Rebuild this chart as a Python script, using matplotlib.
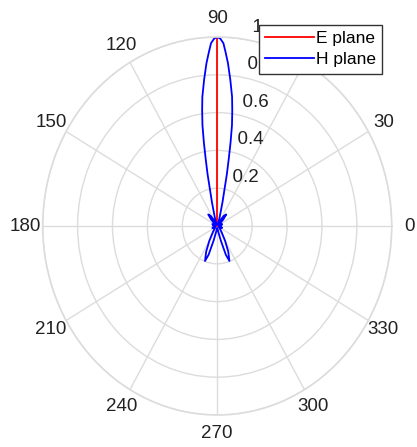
import numpy as np
import matplotlib.pyplot as plt

plt.rcParams['font.family'] = ['Liberation Sans', 'DejaVu Sans']

# H plane pattern (angle in degrees, normalised gain)
h_theta = [0, 10, 20, 28, 38, 45, 50, 55, 60, 65, 70, 73, 75.2, 76.5, 77.7,
           78.6, 79.5, 80.2, 81.0, 82.0, 82.9, 84.5, 85.9, 87.0, 87.9, 89,
           90, 91, 92.1, 93.0, 94.1, 95.5, 97.1, 98.0, 99.0, 99.8, 100.5,
           101.4, 102.3, 103.5, 104.8, 107, 110, 115, 120, 125, 130, 135,
           142, 152, 160, 170, 180, 190, 200, 210, 222, 232, 240, 245, 249.3,
           252, 255, 259, 263, 270, 277, 281, 285, 288, 290.7, 295, 300, 308,
           318, 330, 340, 350, 360]
h_r = [0.01, 0.025, 0.03, 0.01, 0.02, 0.05, 0.08, 0.065, 0.03, 0.008, 0.02,
       0.045, 0.078, 0.13, 0.186, 0.28, 0.366, 0.45, 0.541, 0.62, 0.689,
       0.78, 0.863, 0.92, 0.968, 0.992, 1.0, 0.992, 0.968, 0.92, 0.863,
       0.78, 0.689, 0.62, 0.541, 0.45, 0.366, 0.28, 0.186, 0.13, 0.078,
       0.045, 0.02, 0.008, 0.03, 0.065, 0.08, 0.05, 0.02, 0.01, 0.03, 0.025,
       0.01, 0.02, 0.03, 0.012, 0.02, 0.04, 0.09, 0.15, 0.198, 0.16, 0.08,
       0.03, 0.015, 0.01, 0.015, 0.03, 0.08, 0.16, 0.198, 0.15, 0.09, 0.04,
       0.02, 0.012, 0.03, 0.02, 0.01]

# E plane: a single spike along 90 degrees
e_theta = [90, 90]
e_r = [0, 1]

angle_ticks = list(range(0, 360, 30))
radial_ticks = [0.2, 0.4, 0.6, 0.8, 1.0]
radial_labels = ['0.2', '0.4', '0.6', '0.8', '1']

fig = plt.figure(figsize=(4.17, 4.47), dpi=100)
ax = fig.add_axes([0.1024, 0.0716, 0.837, 0.8456], projection='polar')
ax.set_aspect('auto')

grid_col = '#dcdcdc'
ax.set_ylim(0, 1)
ax.set_rticks(radial_ticks)
ax.set_yticklabels([])
ax.set_thetagrids(angle_ticks, labels=[''] * len(angle_ticks))
ax.grid(True, color=grid_col, lw=1, ls='-')
ax.spines['polar'].set_color(grid_col)
ax.spines['polar'].set_linewidth(1.2)

ax.plot(np.deg2rad(e_theta), e_r, color='red', lw=1.3, label='E plane')
ax.plot(np.deg2rad(h_theta), h_r, color='blue', lw=1.3, label='H plane')

txt_col = '#222222'
for a in angle_ticks:
    ax.text(np.deg2rad(a), 1.1, str(a), ha='center', va='center',
            fontsize=13.5, color=txt_col, clip_on=False)

for r, lab in zip(radial_ticks, radial_labels):
    ax.text(np.deg2rad(82), r + 0.015, '  ' + lab, ha='left', va='bottom',
            fontsize=13.5, color=txt_col, clip_on=False)

# legend sits on top of the 0.8 label, as in the original
leg = ax.legend(loc='upper left', bbox_to_anchor=(259 / 417, 1 - 25 / 447),
                bbox_transform=fig.transFigure, fontsize=12.5, frameon=True,
                fancybox=False, framealpha=1, edgecolor='#333333',
                borderpad=0.35, handlelength=2.8, handletextpad=0.15,
                labelspacing=0.35, borderaxespad=0)
leg.get_frame().set_linewidth(1.0)
leg.set_zorder(10)

fig.savefig('out.png', dpi=100)
